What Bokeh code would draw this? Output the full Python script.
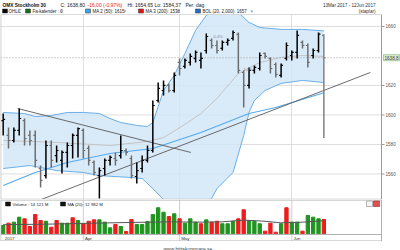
from bokeh.plotting import figure
from bokeh.layouts import column
from bokeh.models import Range1d, FixedTicker, Label, ColumnDataSource
from bokeh.embed import file_html
from bokeh.resources import INLINE

FONT = "Liberation Sans"

# ---------------- data ----------------
month_idx = [0, 15, 33, 54]
month_labels = ["2017", "Apr", "May", "Jun"]

opens = [1596.2, 1586.1, 1582.7, 1589.5, 1596.2, 1586.1, 1586.1, 1563.7, 1558.9, 1579.3,
         1572.5, 1569.2, 1574.6, 1579.3, 1586.1, 1589.5, 1577.3, 1567.8, 1558.9, 1563.7,
         1569.2, 1570.5, 1572.5, 1575.9, 1570.5, 1558.3, 1563.7, 1569.2, 1575.9, 1609.8,
         1616.6, 1620.0, 1616.6, 1635.6, 1632.9, 1635.6, 1638.3, 1637.0, 1643.7, 1650.5,
         1647.1, 1645.1, 1649.2, 1651.9, 1654.6, 1628.8, 1620.0, 1630.2, 1631.5, 1641.7,
         1638.3, 1634.2, 1626.8, 1638.3, 1640.3, 1642.4, 1649.2, 1647.1, 1640.3, 1643.7,
         1654.0]
highs = [1601.0, 1591.5, 1591.5, 1604.4, 1597.6, 1589.5, 1589.5, 1565.7, 1582.7, 1582.7,
         1579.3, 1575.9, 1581.4, 1587.5, 1591.5, 1590.8, 1579.3, 1569.2, 1564.4, 1570.5,
         1572.5, 1574.6, 1586.1, 1577.3, 1572.5, 1567.8, 1572.5, 1579.3, 1609.8, 1622.0,
         1623.4, 1621.4, 1628.8, 1638.3, 1638.3, 1641.7, 1643.7, 1642.4, 1655.3, 1651.9,
         1650.5, 1650.5, 1651.9, 1657.3, 1655.9, 1630.2, 1632.2, 1633.6, 1642.4, 1642.4,
         1639.0, 1635.6, 1634.9, 1649.2, 1643.7, 1657.3, 1650.5, 1648.5, 1645.1, 1655.9,
         1654.65]
lows = [1586.1, 1577.3, 1581.4, 1586.1, 1579.3, 1579.3, 1564.4, 1550.8, 1556.9, 1564.4,
        1567.8, 1560.3, 1564.4, 1570.5, 1571.2, 1570.5, 1565.7, 1558.9, 1543.4, 1558.9,
        1565.7, 1565.7, 1570.5, 1572.5, 1556.9, 1553.5, 1561.0, 1567.8, 1574.6, 1608.5,
        1613.2, 1615.2, 1615.2, 1626.8, 1631.5, 1633.6, 1635.6, 1631.5, 1641.7, 1645.1,
        1641.7, 1643.7, 1647.1, 1650.5, 1628.1, 1605.1, 1618.0, 1628.1, 1630.2, 1638.3,
        1628.1, 1625.4, 1625.4, 1637.0, 1637.0, 1638.3, 1645.1, 1632.2, 1638.3, 1642.4,
        1584.37]
closes = [1597.0, 1582.7, 1589.5, 1597.6, 1584.0, 1582.7, 1569.2, 1555.6, 1579.3, 1569.2,
          1575.9, 1574.6, 1579.3, 1586.1, 1590.8, 1575.9, 1569.2, 1561.0, 1562.3, 1569.2,
          1571.2, 1569.2, 1575.9, 1574.6, 1558.9, 1562.3, 1569.2, 1575.9, 1606.4, 1618.0,
          1620.0, 1616.6, 1626.8, 1631.5, 1637.0, 1639.7, 1642.4, 1638.3, 1653.2, 1647.1,
          1643.7, 1649.2, 1650.5, 1655.9, 1630.2, 1620.0, 1630.2, 1632.2, 1640.3, 1639.7,
          1631.5, 1627.5, 1633.6, 1647.1, 1642.4, 1653.9, 1647.1, 1635.6, 1643.7, 1654.8,
          1638.8]

volume_m = [8.2, 10.5, 11.5, 16.4, 14.8, 7.2, 19.0, 13.1, 12.4, 6.5,
            13.1, 10.5, 10.5, 15.8, 13.1, 9.9, 12.4, 13.8, 13.8, 11.5,
            5.9, 9.2, 7.2, 2.3, 14.1, 9.2, 9.2, 12.1, 19.0, 25.7,
            21.3, 17.1, 19.7, 14.8, 10.5, 14.8, 11.5, 9.9, 13.8, 11.5,
            12.4, 9.9, 9.9, 12.4, 14.8, 23.7, 13.1, 12.4, 9.9, 2.6,
            10.5, 1.6, 9.9, 25.7, 11.5, 11.5, 2.6, 18.1, 16.4, 14.8,
            14.121]
volume_dir = "GRGGRRRRGRRGGRGRRRGGGRGRRGGGGGGRGRGGGRGRRGGGRRGGGRRRGRGGRGGGR"

vol_ma_idx = [0, 8, 20, 24, 31, 37, 41, 45, 49, 52, 56, 60]
vol_ma_val = [9.0, 9.5, 10.8, 11.2, 11.8, 11.5, 11.8, 13.5, 12.4, 10.8, 11.5, 12.982]

bol_up_idx = [0, 4, 6, 9, 12, 15, 18, 20, 22, 25, 27, 28, 30, 32, 34, 36, 38, 40, 42, 44, 46, 48, 52, 56, 60]
bol_up_val = [1601.7, 1601.0, 1598.9, 1599.6, 1601.7, 1601.7, 1601.0, 1597.6, 1594.9, 1592.9,
              1592.2, 1594.9, 1616.6, 1626.8, 1641.7, 1657.3, 1667.5, 1672.2, 1672.2, 1669.5,
              1662.7, 1659.3, 1658.0, 1658.0, 1657.0]
bol_lo_idx = [0, 5, 10, 15, 18, 24, 26, 28, 30, 33, 36, 38, 39, 40, 43, 45, 46, 47, 49, 52, 56, 60]
bol_lo_val = [1563.7, 1565.7, 1562.3, 1561.0, 1558.9, 1557.6, 1556.9, 1550.1, 1542.7, 1533.9,
              1531.9, 1536.6, 1543.4, 1550.1, 1561.0, 1586.1, 1601.7, 1609.8, 1616.6, 1621.4,
              1623.4, 1622.0]
bol_mid_idx = [0, 10, 20, 27, 30, 34, 37, 40, 44, 48, 52, 56, 60]
bol_mid_val = [1582.7, 1581.4, 1579.3, 1582.0, 1584.7, 1593.6, 1601.0, 1611.2, 1628.1, 1635.6,
               1639.0, 1640.3, 1639.7]
ma50_idx = [0, 6, 12, 20, 28, 37, 46, 51, 60]
ma50_val = [1552.2, 1561.0, 1567.8, 1573.9, 1577.3, 1588.1, 1601.0, 1605.1, 1615.0]

trend_down_idx = [2.7, 35.1]
trend_down_val = [1604.4, 1574.6]
trend_up_idx = [5.7, 68.7]
trend_up_val = [1540.7, 1628.8]

y_ticks = [1560, 1580, 1600, 1620, 1660]
y_tick_labels = ["1560", "1580", "1600", "1620", "1660"]
last_price = 1638.8
last_price_label = "1638,8"

# ---------------- helpers for placement (pixel -> data) ----------------
def X(px):
    return (px - 2.67) / 5.345

def Y1(py):
    return 1660 - (py - 26) / 1.475

def Y2(py):
    return (233.3 - py) * 0.987

AX = X(381)      # right edge of plotting area (axis line)
n = len(closes)
idx = list(range(n))


def strip(height, top_px):
    """A text-only strip whose data space equals canvas pixels."""
    f = figure(width=400, height=height, output_backend="svg", toolbar_location=None,
               x_range=Range1d(0, 400), y_range=Range1d(top_px + height, top_px),
               x_axis_location=None, y_axis_location=None, min_border=0)
    f.outline_line_color = None
    f.grid.visible = False
    f.background_fill_color = "white"
    f.border_fill_color = "white"
    return f


def lab(fig, x, y, t, size, color="#222222", align="left", style="normal", font=FONT, **kw):
    fig.add_layout(Label(x=x, y=y, text=t, text_font=font, text_font_size=size,
                         text_color=color, text_align=align, text_font_style=style,
                         text_baseline="middle", **kw))

# ---------------- header strip ----------------
hd = strip(14, 0)
hdr = [(2, "OMX Stockholm 30", "#111111", "bold", "4.8px"),
       (60, "C: 1638,80", "#222222", "normal", "5px"),
       (87, "-16,00 (-0,97%)", "#e02020", "normal", "5px"),
       (127, "Hi: 1654,65", "#222222", "normal", "5px"),
       (154, "Lo: 1584,37", "#222222", "normal", "5px"),
       (185, "Per: dag", "#222222", "normal", "5px")]
for px, t, colr, st, sz in hdr:
    lab(hd, px, 4.5, t, sz, colr, style=st)
lab(hd, 375, 4.5, "13Mar 2017 - 12Jun 2017", "4.6px", "#333333", align="right")
lab(hd, 375, 11, "(staplar)", "4.6px", "#333333", align="right")

legend_items = [(2, 8, 17, "OHLC", "#000000"),
                (25, 32, 59, "Fa-kalender : 0", "#1a6e1a"),
                (85, 92, 123, "MA 2 (50): 1615", "#33aaee"),
                (138, 145, 176, "MA 3 (200): 1538", "#ee1111"),
                (195, 202, 250, "BOL (20, 2,000): 1657", "#1f6fd0")]
for sx, tx, vx, t, colr in legend_items:
    hd.rect(x=[sx + 2.5], y=[10.5], width=5, height=4, fill_color=colr, line_color="#333333",
            line_width=0.5)
    lab(hd, tx, 10.5, t, "4.5px", "#222222")
    lab(hd, vx, 10.5, "▾", "5px", "#999999", font="DejaVu Sans")

# ---------------- main price panel ----------------
p1 = figure(width=400, height=185, output_backend="svg", toolbar_location=None,
            x_range=Range1d(-0.5, X(400)), y_range=Range1d(1542.7, 1668.1),
            x_axis_location=None, y_axis_location=None, min_border=0)
p1.outline_line_color = None
p1.border_fill_color = "white"
p1.background_fill_color = "white"
p1.ygrid.visible = False
p1.xgrid.ticker = FixedTicker(ticks=month_idx[1:])
p1.xgrid.grid_line_color = "#dedede"

# horizontal grid lines stopping at the axis
p1.segment(x0=[-0.5] * len(y_ticks), y0=y_ticks, x1=[AX] * len(y_ticks), y1=y_ticks,
           line_color="#dedede", line_width=1)

# Bollinger band
band_x = bol_up_idx + bol_lo_idx[::-1]
band_y = bol_up_val + bol_lo_val[::-1]
p1.patch(band_x, band_y, fill_color="#cfe5f8", fill_alpha=0.8, line_color=None)
p1.line(bol_up_idx, bol_up_val, line_color="#6aaee6", line_width=1)
p1.line(bol_lo_idx, bol_lo_val, line_color="#6aaee6", line_width=1)
p1.line(bol_mid_idx, bol_mid_val, line_color="#c4c4c4", line_width=1)
p1.line(ma50_idx, ma50_val, line_color="#55aaee", line_width=1.1)
p1.line(trend_down_idx, trend_down_val, line_color="#5a5a5a", line_width=0.9)
p1.line(trend_up_idx, trend_up_val, line_color="#5a5a5a", line_width=0.9)

# current price dotted line
p1.segment(x0=[-0.5], y0=[last_price], x1=[AX], y1=[last_price], line_color="#a0a0a0",
           line_width=1, line_dash="1 2")

bar_col = ["#000000" if c >= o else "#6e6e6e" for o, c in zip(opens, closes)]
bar_col[-1] = "#808080"
src = ColumnDataSource(dict(i=idx, o=opens, h=highs, l=lows, c=closes,
                            il=[i - 0.36 for i in idx], ir=[i + 0.36 for i in idx],
                            col=bar_col))
p1.segment(x0="i", y0="h", x1="i", y1="l", source=src, line_color="col", line_width=1.5)
p1.segment(x0="il", y0="o", x1="i", y1="o", source=src, line_color="col", line_width=1.2)
p1.segment(x0="i", y0="c", x1="ir", y1="c", source=src, line_color="col", line_width=1.2)

# Fa-kalender markers
for px, py, t in [(217, 36, "-0,4%"), (247, 69, "-1,0%")]:
    lab(p1, X(px), Y1(py), t, "4px", "#888888", align="center")

# frame border and right axis
p1.segment(x0=[-0.5, -0.5, -0.45], y0=[1542.85, 1668.1, 1542.7],
           x1=[AX, AX, -0.45], y1=[1542.85, 1668.1, 1668.1],
           line_color="#b5b5b5", line_width=1)
p1.segment(x0=[AX], y0=[1542.7], x1=[AX], y1=[1668.1], line_color="#9a9a9a", line_width=1)
p1.segment(x0=[AX] * len(y_ticks), y0=y_ticks, x1=[X(384)] * len(y_ticks), y1=y_ticks,
           line_color="#9a9a9a", line_width=1)
for t, tl in zip(y_ticks, y_tick_labels):
    lab(p1, X(385), t, tl, "4.6px", "#555555")

# current price tag
lab(p1, X(383), last_price, last_price_label, "4.6px", "#333333",
    background_fill_color="#dff0d8", border_line_color="#a8c8a0", padding=1)

# ---------------- volume panel ----------------
p2 = figure(width=400, height=42, output_backend="svg", toolbar_location=None,
            x_range=p1.x_range, y_range=Range1d(Y2(241), Y2(199)),
            x_axis_location=None, y_axis_location=None, min_border=0)
p2.outline_line_color = None
p2.border_fill_color = "white"
p2.background_fill_color = "white"
p2.ygrid.visible = False
p2.xgrid.visible = False
p2.segment(x0=month_idx[1:], y0=[Y2(241)] * 3, x1=month_idx[1:], y1=[Y2(199)] * 3,
           line_color="#cfcfcf", line_width=1)

vcol = ["#1f951f" if d == "G" else "#ee1c1c" for d in volume_dir]
p2.vbar(x=idx, top=volume_m, bottom=0, width=0.62, color=vcol)
p2.line(vol_ma_idx, vol_ma_val, line_color="#555555", line_width=1)

# panel borders: top, separator above date strip, bottom, left, right
p2.segment(x0=[-0.5, -0.5, -0.5, -0.45, AX],
           y0=[Y2(199.5), Y2(234), Y2(240.5), Y2(241), Y2(241)],
           x1=[AX, AX, AX, -0.45, AX],
           y1=[Y2(199.5), Y2(234), Y2(240.5), Y2(199), Y2(199)],
           line_color="#b0b0b0", line_width=1)

for m, t in zip(month_idx, month_labels):
    lab(p2, m + 0.3, Y2(237.8), t, "4.4px", "#333333")

for sx, tx, t in [(5, 12, "Volume : 14 121 M"), (60, 67, "MA (20): 12 982 M")]:
    p2.rect(x=[X(sx + 2.5)], y=[Y2(203.5)], width=5 / 5.345, height=4 * 0.987,
            fill_color="#111111", line_color="#111111", line_width=0.5)
    lab(p2, X(tx), Y2(203.5), t, "4.3px", "#222222")

# small panel icons
p2.quad(left=[X(366)], right=[X(372)], top=[Y2(200.5)], bottom=[Y2(206)],
        fill_color="#f4f4f4", line_color="#999999", line_width=0.7)
p2.quad(left=[X(373)], right=[X(379)], top=[Y2(200.5)], bottom=[Y2(206)],
        fill_color="#e05050", line_color="#b03030", line_width=0.7)

# ---------------- footer strip ----------------
ft = strip(9, 241)
lab(ft, 163, 245, "www.hittakursmare.se", "5px", "#444444")

layout = column(hd, p1, p2, ft, spacing=0)
open("out.html", "w").write(file_html(layout, INLINE))
